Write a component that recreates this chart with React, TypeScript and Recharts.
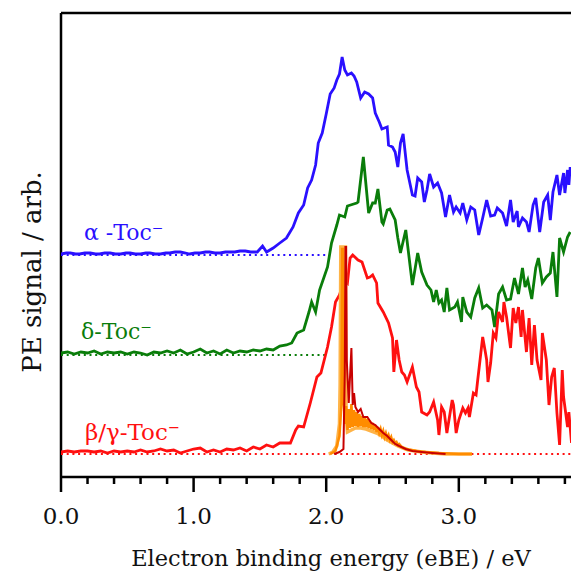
import * as React from "react";
import {
  LineChart,
  Line,
  XAxis,
  YAxis,
  ReferenceLine,
  Customized,
} from "recharts";

type Pt = [number, number];

// energies in eV, signal in arb. units above each trace's own baseline
const alphaToc: Pt[] = [
  [0.0, 1], [0.04, 2], [0.07, 2], [0.11, 1], [0.14, 1], [0.18, 2], [0.22, 2], [0.26, 1], [0.29, 1],
  [0.33, 2], [0.37, 2], [0.41, 1], [0.45, 1], [0.49, 2], [0.52, 2], [0.56, 1], [0.6, 1], [0.64, 2],
  [0.67, 2], [0.71, 1], [0.75, 1], [0.79, 2], [0.82, 2], [0.86, 3], [0.9, 3], [0.94, 2], [0.97, 1],
  [1.01, 2], [1.05, 2], [1.09, 3], [1.12, 3], [1.16, 2], [1.2, 2], [1.24, 3], [1.27, 3], [1.31, 3],
  [1.35, 4], [1.39, 4], [1.43, 3], [1.48, 3], [1.52, 9], [1.55, 3], [1.6, 7], [1.65, 12], [1.7, 17],
  [1.75, 28], [1.79, 42], [1.83, 50], [1.86, 67], [1.89, 75], [1.92, 90], [1.94, 112], [1.97, 122],
  [2.0, 141], [2.03, 161], [2.06, 167], [2.08, 175], [2.1, 181], [2.12, 198], [2.14, 185], [2.16, 180],
  [2.19, 182], [2.21, 179], [2.23, 173], [2.26, 157], [2.29, 163], [2.32, 161], [2.35, 157], [2.37, 142],
  [2.4, 133], [2.42, 126], [2.46, 128], [2.47, 110], [2.5, 108], [2.52, 103], [2.54, 88], [2.56, 112],
  [2.58, 121], [2.61, 85], [2.65, 60], [2.67, 59], [2.69, 77], [2.72, 73], [2.74, 53], [2.76, 65],
  [2.78, 81], [2.81, 68], [2.84, 72], [2.87, 62], [2.9, 38], [2.93, 60], [2.96, 43], [2.98, 48],
  [3.01, 42], [3.03, 52], [3.06, 35], [3.09, 48], [3.12, 45], [3.15, 20], [3.18, 37], [3.21, 55],
  [3.24, 39], [3.27, 40], [3.29, 47], [3.33, 42], [3.36, 29], [3.39, 55], [3.41, 33], [3.44, 44],
  [3.45, 28], [3.48, 37], [3.51, 33], [3.53, 23], [3.56, 50], [3.58, 57], [3.61, 23], [3.64, 53],
  [3.67, 60], [3.69, 35], [3.71, 63], [3.74, 80], [3.76, 60], [3.79, 82], [3.8, 62], [3.82, 85],
  [3.83, 70], [3.84, 88],
];

const deltaToc: Pt[] = [
  [0.0, 2], [0.05, 3], [0.1, 1], [0.15, 3], [0.2, 2], [0.25, 4], [0.3, 1], [0.35, 3], [0.4, 2],
  [0.45, 3], [0.5, 1], [0.55, 3], [0.6, 2], [0.65, 0], [0.7, 3], [0.75, 2], [0.8, 4], [0.85, 2],
  [0.9, 5], [0.95, 1], [1.0, 3], [1.05, 6], [1.1, 2], [1.15, 4], [1.2, 1], [1.25, 5], [1.3, 2],
  [1.35, 4], [1.4, 3], [1.45, 5], [1.5, 4], [1.55, 6], [1.6, 5], [1.65, 9], [1.7, 10], [1.74, 12],
  [1.78, 22], [1.83, 25], [1.87, 43], [1.89, 53], [1.92, 43], [1.95, 65], [2.01, 88], [2.04, 112],
  [2.08, 130], [2.1, 140], [2.14, 138], [2.16, 149], [2.23, 152], [2.24, 153], [2.28, 198], [2.32, 142],
  [2.35, 152], [2.37, 152], [2.39, 166], [2.42, 133], [2.43, 131], [2.46, 145], [2.48, 146], [2.52, 135],
  [2.54, 117], [2.56, 102], [2.6, 125], [2.65, 70], [2.69, 102], [2.72, 83], [2.76, 70], [2.79, 65],
  [2.81, 53], [2.83, 65], [2.85, 52], [2.87, 55], [2.89, 43], [2.91, 67], [2.93, 45], [2.97, 48],
  [2.99, 53], [3.02, 33], [3.03, 58], [3.06, 43], [3.09, 38], [3.12, 57], [3.15, 67], [3.18, 47],
  [3.21, 50], [3.25, 45], [3.27, 28], [3.3, 61], [3.33, 68], [3.36, 55], [3.39, 56], [3.42, 77],
  [3.45, 61], [3.48, 87], [3.5, 68], [3.52, 75], [3.55, 56], [3.58, 87], [3.6, 97], [3.63, 72],
  [3.66, 78], [3.69, 82], [3.71, 103], [3.74, 58], [3.76, 117], [3.79, 103], [3.82, 118], [3.84, 123],
];

const betaGammaToc: Pt[] = [
  [0.0, 2], [0.05, 3], [0.1, 2], [0.15, 3], [0.2, 3], [0.25, 2], [0.3, 3], [0.35, 1], [0.4, 3],
  [0.45, 2], [0.5, 3], [0.55, 2], [0.6, 4], [0.65, 2], [0.7, 3], [0.75, 5], [0.8, 3], [0.85, 4],
  [0.9, 1], [0.95, 3], [1.0, 5], [1.05, 6], [1.1, 2], [1.15, 4], [1.2, 2], [1.25, 5], [1.3, 4],
  [1.35, 6], [1.4, 3], [1.45, 7], [1.5, 5], [1.55, 9], [1.6, 7], [1.65, 11], [1.73, 11], [1.77, 24],
  [1.79, 28], [1.83, 27], [1.88, 51], [1.93, 77], [1.96, 81], [2.01, 107], [2.04, 127], [2.07, 152],
  [2.1, 159], [2.12, 167], [2.14, 174], [2.16, 171], [2.18, 196], [2.2, 199], [2.24, 194], [2.27, 192],
  [2.31, 176], [2.33, 177], [2.35, 179], [2.38, 171], [2.39, 151], [2.43, 142], [2.47, 131], [2.5, 116],
  [2.51, 82], [2.53, 114], [2.55, 94], [2.57, 82], [2.59, 79], [2.61, 72], [2.65, 87], [2.68, 67],
  [2.7, 62], [2.72, 42], [2.76, 39], [2.78, 42], [2.81, 52], [2.84, 34], [2.85, 19], [2.87, 47],
  [2.89, 42], [2.91, 21], [2.95, 54], [2.96, 49], [2.98, 21], [3.0, 34], [3.03, 46], [3.05, 41],
  [3.07, 46], [3.08, 37], [3.11, 61], [3.13, 59], [3.14, 71], [3.18, 117], [3.2, 102], [3.21, 94],
  [3.22, 72], [3.24, 91], [3.26, 121], [3.28, 116], [3.3, 142], [3.33, 132], [3.34, 152], [3.36, 137],
  [3.39, 106], [3.41, 146], [3.43, 131], [3.45, 147], [3.47, 117], [3.48, 144], [3.51, 102], [3.53, 136],
  [3.55, 89], [3.57, 129], [3.59, 94], [3.62, 74], [3.63, 121], [3.66, 94], [3.68, 49], [3.7, 77],
  [3.72, 86], [3.74, 41], [3.76, 9], [3.78, 84], [3.79, 57], [3.82, 27], [3.83, 42], [3.85, 11],
];

// narrow-band spectra sharing the β/γ baseline
const lightOrange: Pt[] = [
  [2.02, 0], [2.05, 2], [2.08, 8], [2.1, 30], [2.105, 70], [2.11, 207], [2.145, 207], [2.15, 40],
  [2.16, 22], [2.19, 24], [2.22, 26], [2.26, 26], [2.3, 25], [2.34, 23], [2.38, 21], [2.42, 18],
  [2.46, 14], [2.5, 11], [2.54, 8], [2.58, 6], [2.62, 4], [2.67, 3], [2.72, 2], [2.8, 1],
  [2.9, 0], [3.1, 0],
];

const orange: Pt[] = [
  [2.03, 0], [2.07, 3], [2.1, 18], [2.115, 50], [2.12, 205], [2.125, 205], [2.13, 60], [2.14, 30],
  [2.15, 48], [2.16, 24], [2.17, 45], [2.18, 26], [2.19, 50], [2.2, 27], [2.21, 44], [2.22, 28],
  [2.23, 42], [2.24, 27], [2.25, 40], [2.26, 28], [2.27, 38], [2.28, 27], [2.29, 37], [2.3, 27],
  [2.31, 35], [2.32, 26], [2.33, 33], [2.34, 25], [2.35, 31], [2.36, 24], [2.37, 29], [2.38, 22],
  [2.39, 27], [2.4, 21], [2.41, 25], [2.42, 19], [2.43, 23], [2.44, 17], [2.45, 21], [2.46, 16],
  [2.47, 19], [2.48, 14], [2.49, 17], [2.5, 12], [2.51, 14], [2.52, 11], [2.53, 12], [2.54, 9],
  [2.55, 10], [2.57, 7], [2.6, 5], [2.64, 4], [2.68, 3], [2.75, 2], [2.85, 1], [3.0, 0], [3.1, 0],
];

const darkRed: Pt[] = [
  [2.06, 0], [2.1, 2], [2.13, 5], [2.14, 80], [2.145, 207], [2.15, 207], [2.155, 94], [2.17, 51],
  [2.19, 106], [2.2, 49], [2.21, 61], [2.22, 47], [2.24, 42], [2.26, 45], [2.28, 37], [2.31, 37],
  [2.34, 31], [2.37, 29], [2.4, 25], [2.43, 21], [2.46, 18], [2.49, 14], [2.52, 10], [2.55, 8],
  [2.6, 5], [2.65, 3], [2.72, 2], [2.8, 1], [2.9, 0],
];

const ALPHA_OFFSET = 222;
const DELTA_OFFSET = 122;
const BG_OFFSET = 23;
const X_MAX = 3.846;
const Y_MAX = 464;

const xTicks = [0, 0.2, 0.4, 0.6, 0.8, 1, 1.2, 1.4, 1.6, 1.8, 2, 2.2, 2.4, 2.6, 2.8, 3, 3.2, 3.4, 3.6, 3.8];

const FONT = "'DejaVu Serif', serif";
const BLUE = "#2a10ff";
const GREEN = "#0a7d0a";
const RED = "#ff1010";

const toRows = (pts: Pt[], off: number) => pts.map(([e, v]) => ({ e, v: v + off }));

const Tick = (props: any) => {
  const { x, y, payload } = props;
  const val = payload.value as number;
  const major = Math.abs(val - Math.round(val)) < 1e-6;
  return (
    <g>
      <line x1={x} x2={x} y1={y} y2={y + (major ? 15 : 7)} stroke="#000" strokeWidth={2.5} />
      {major && (
        <text x={x} y={y + 47} textAnchor="middle" fontFamily={FONT} fontSize={23} fill="#111">
          {val.toFixed(1)}
        </text>
      )}
    </g>
  );
};

const Overlay = () => (
  <g fontFamily={FONT}>
    <text x={84} y={240} fontSize={22} fill={BLUE}>α -Toc⁻</text>
    <text x={81} y={339} fontSize={22} fill={GREEN}>δ-Toc⁻</text>
    <text x={85} y={440} fontSize={23} fill={RED}>β/γ-Toc⁻</text>
    <text x={331} y={566} fontSize={22.5} textAnchor="middle" fill="#111">
      Electron binding energy (eBE) / eV
    </text>
    <text x={41} y={272} fontSize={26} textAnchor="middle" fill="#111" transform="rotate(-90 41 272)">
      PE signal / arb.
    </text>
  </g>
);

export default function App() {
  const dotted = { strokeWidth: 2, strokeDasharray: "2 3.7" };
  const sw = 2.8;
  return (
    <div style={{ position: "absolute", left: 0, top: 0, width: 571, height: 574, background: "#fff" }}>
      <LineChart width={571} height={574} margin={{ top: 13, right: 0, left: 61, bottom: 0 }}>
        <XAxis
          type="number"
          dataKey="e"
          domain={[0, X_MAX]}
          ticks={xTicks}
          allowDataOverflow
          height={97}
          tickLine={false}
          tickSize={0}
          tickMargin={0}
          tick={<Tick />}
          axisLine={{ stroke: "#000", strokeWidth: 2.5 }}
          interval={0}
        />
        <YAxis hide type="number" domain={[0, Y_MAX]} allowDataOverflow />
        <ReferenceLine x={0} stroke="#000" strokeWidth={2.5} />
        <ReferenceLine y={Y_MAX} stroke="#000" strokeWidth={2.5} />
        <ReferenceLine segment={[{ x: 0, y: ALPHA_OFFSET }, { x: 2, y: ALPHA_OFFSET }]} stroke={BLUE} {...dotted} />
        <ReferenceLine segment={[{ x: 0, y: DELTA_OFFSET }, { x: 2, y: DELTA_OFFSET }]} stroke={GREEN} {...dotted} />
        <ReferenceLine segment={[{ x: 0, y: BG_OFFSET }, { x: X_MAX, y: BG_OFFSET }]} stroke={RED} {...dotted} />
        <Line data={toRows(alphaToc, ALPHA_OFFSET)} dataKey="v" stroke={BLUE} strokeWidth={sw} dot={false} type="linear" isAnimationActive={false} />
        <Line data={toRows(deltaToc, DELTA_OFFSET)} dataKey="v" stroke={GREEN} strokeWidth={sw} dot={false} type="linear" isAnimationActive={false} />
        <Line data={toRows(betaGammaToc, BG_OFFSET)} dataKey="v" stroke={RED} strokeWidth={sw} dot={false} type="linear" isAnimationActive={false} />
        <Line data={toRows(lightOrange, BG_OFFSET)} dataKey="v" stroke="#ffb347" strokeWidth={3.5} dot={false} type="linear" isAnimationActive={false} />
        <Line data={toRows(orange, BG_OFFSET)} dataKey="v" stroke="#ff8c00" strokeWidth={2.5} dot={false} type="linear" isAnimationActive={false} />
        <Line data={toRows(darkRed, BG_OFFSET)} dataKey="v" stroke="#c80000" strokeWidth={2} dot={false} type="linear" isAnimationActive={false} />
        <Customized component={Overlay} />
      </LineChart>
    </div>
  );
}
